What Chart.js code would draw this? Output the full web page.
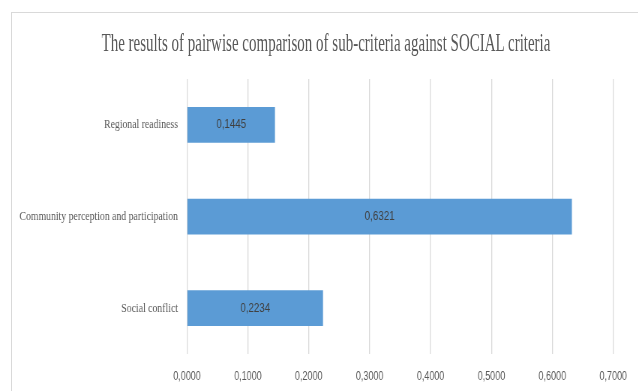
<!DOCTYPE html>
<html>
<head>
<meta charset="utf-8">
<script src="https://cdn.jsdelivr.net/npm/chart.js@4.4.1/dist/chart.umd.min.js"></script>
<style>
  html, body { margin: 0; padding: 0; background: #fff; overflow: hidden; }
  body { width: 638px; height: 391px; position: relative; }
  .frame { position: absolute; left: 11px; top: 12px; width: 700px; height: 400px;
           border-left: 1px solid #d9d9d9; border-top: 1px solid #d9d9d9; }
  .title { position: absolute; left: 326px; top: 30px; width: 0; overflow: visible;
           font: 25px/25px 'Liberation Serif', serif; color: #595959; white-space: nowrap; }
  .title span { display: inline-block; transform: translateX(-50%) scaleX(0.6); transform-origin: 50% 50%; }
  /* narrow typeface look: draw wide, squeeze horizontally */
  #bar-chart { position: absolute; left: 0; top: 0; transform: scaleX(0.75); transform-origin: 0 0; }
</style>
</head>
<body>
<div class="frame"></div>
<canvas id="bar-chart" width="851" height="391"></canvas>
<div class="title"><span>The results of pairwise comparison of sub-criteria against SOCIAL criteria</span></div>
<script>
var categories = ["Regional readiness", "Community perception and participation", "Social conflict"];
var weights = [0.1445, 0.6321, 0.2234];
var xTicks = [0, 0.1, 0.2, 0.3, 0.4, 0.5, 0.6, 0.7];

function fmt(v) {
    return v.toFixed(4).replace('.', ',');
}

// value text in the middle of each bar
var barLabels = {
    id: 'barLabels',
    afterDatasetsDraw: function(chart) {
        var ctx = chart.ctx;
        var meta = chart.getDatasetMeta(0);
        ctx.save();
        ctx.font = "13px 'Liberation Sans'";
        ctx.fillStyle = "#404040";
        ctx.textAlign = "center";
        ctx.textBaseline = "middle";
        meta.data.forEach(function(bar, i) {
            ctx.fillText(fmt(weights[i]), (bar.x + bar.base) / 2, bar.y);
        });
        ctx.restore();
    }
};

new Chart(document.getElementById("bar-chart"), {
    type: 'bar',
    data: {
        labels: categories,
        datasets: [{
            data: weights,
            backgroundColor: "#5b9bd5",
            borderWidth: 0,
            categoryPercentage: 1,
            barPercentage: 0.39
        }]
    },
    options: {
        indexAxis: 'y',
        responsive: false,
        animation: false,
        devicePixelRatio: 1,
        layout: { padding: { left: 0, right: 32, top: 79, bottom: 0 } },
        plugins: {
            legend: { display: false },
            tooltip: { enabled: false },
            title: { display: false }
        },
        scales: {
            x: {
                min: 0,
                max: 0.7,
                afterBuildTicks: function(axis) {
                    axis.ticks = xTicks.map(function(v) { return { value: v }; });
                },
                afterFit: function(axis) { axis.height = 37; },
                ticks: {
                    color: "#595959",
                    font: { family: "'Liberation Sans'", size: 12 },
                    padding: 15,
                    maxRotation: 0,
                    callback: function(v) { return fmt(v); }
                },
                grid: { color: "#d9d9d9", lineWidth: 1.3, drawTicks: false },
                border: { display: false }
            },
            y: {
                afterFit: function(axis) { axis.width = 249.3; },
                ticks: {
                    color: "#595959",
                    font: { family: "'Liberation Serif'", size: 13 },
                    padding: 4
                },
                grid: { display: false },
                border: { display: false }
            }
        }
    },
    plugins: [barLabels]
});
</script>
</body>
</html>
